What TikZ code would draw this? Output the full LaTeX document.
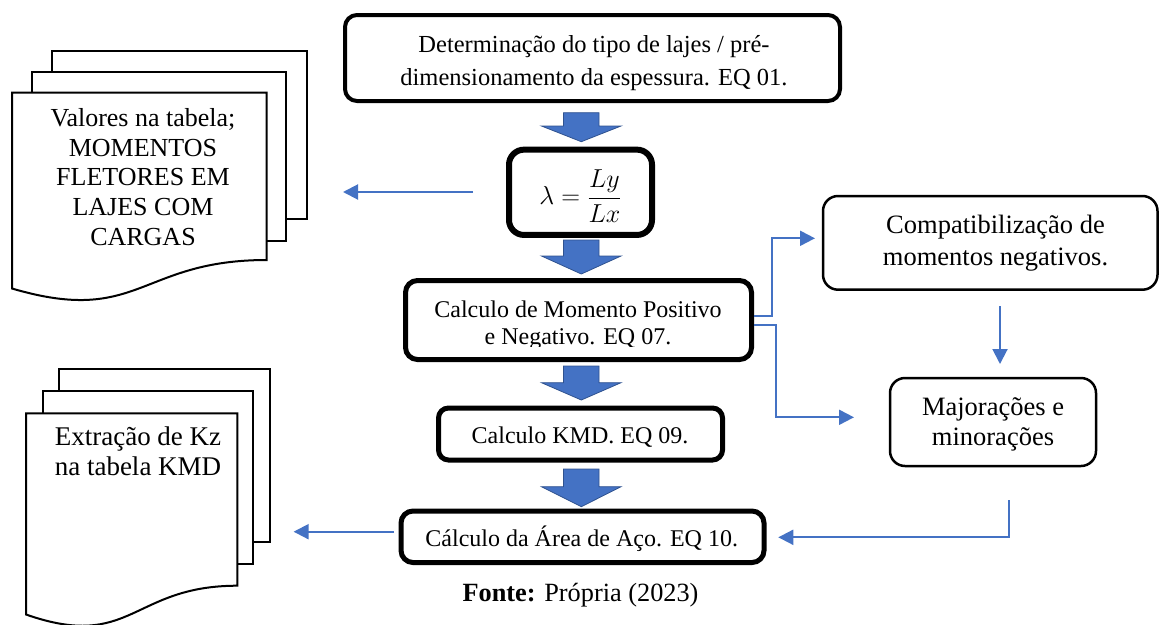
\RequirePackage{fix-cm}
\documentclass[tikz,border=0pt]{standalone}
\usepackage{fontspec}
\setmainfont{Liberation Serif}
\usetikzlibrary{arrows.meta}
\definecolor{conblue}{HTML}{4472C4}
\definecolor{arrborder}{HTML}{2F528F}
\newcommand{\mlines}[1]{\begin{tabular}[t]{@{}c@{}}#1\end{tabular}}
\newcommand{\fsz}[2]{\fontsize{#1}{#2}\selectfont}
\newcommand{\barrow}[3]{\filldraw[barr] (563.5,#1) -- (599,#1) -- (599,#2) -- (621,#2) -- (581.3,#3) -- (541.5,#2) -- (563.5,#2) -- cycle;}
\begin{document}
\begin{tikzpicture}[x=1pt,y=-1pt,
  box/.style={draw=black, fill=white, rounded corners=#1, inner sep=0pt},
  box/.default=12pt,
  txt/.style={anchor=base, inner sep=0pt},
  conn/.style={draw=conblue, line width=2pt, -{Triangle[length=15pt,width=15pt]}},
  barr/.style={fill=conblue, draw=arrborder, line width=0.8pt, line join=miter},
  doc/.style={draw=black, line width=2pt, line join=miter}
]
\useasboundingbox (0,0) rectangle (1161,624);
\clip (0,0) rectangle (1161,624);

% main boxes
\node[box=12pt, line width=4pt, minimum width=495pt, minimum height=86pt] (top) at (592.5,58) {};
\node[txt, font=\fsz{24.5}{32.3}] (toptxt) at (594,52.7) {\mlines{Determinação do tipo de lajes / pré-\\dimensionamento da espessura. EQ 01.}};

\node[box=15pt, line width=6pt, minimum width=143pt, minimum height=85.3pt] (lam) at (580.5,192.3) {};
\node[inner sep=0pt, font=\fsz{26}{30}] (lamtxt) at (580.5,196) {$\displaystyle\lambda=\frac{Ly}{Lx}$};

\node[box=12pt, line width=5pt, minimum width=346pt, minimum height=79pt] (mom) at (578.5,320) {};
\begin{scope}
\clip (405,280) rectangle (752,346);
\node[txt, font=\fsz{24}{27}] (momtxt) at (578,317) {\mlines{Calculo de Momento Positivo\\e Negativo. EQ 07.}};
\end{scope}

\node[box=10pt, line width=5pt, minimum width=284pt, minimum height=52pt] (kmd) at (580.5,434) {};
\node[txt, font=\fsz{24}{27}] (kmdtxt) at (580,443) {Calculo KMD. EQ 09.};

\node[box=12pt, line width=5pt, minimum width=363pt, minimum height=51.5pt] (area) at (582.5,536.75) {};
\node[txt, font=\fsz{24}{27}] (areatxt) at (581.7,546.7) {Cálculo da Área de Aço. EQ 10.};

\node[box=15pt, line width=2.5pt, minimum width=334.5pt, minimum height=93.7pt] (comp) at (990.25,242.85) {};
\node[txt, font=\fsz{26.5}{32}] (comptxt) at (995.5,233) {\mlines{Compatibilização de\\momentos negativos.}};

\node[box=15pt, line width=2.5pt, minimum width=206pt, minimum height=88pt] (maj) at (993,422) {};
\node[txt, font=\fsz{26.5}{30}] (majtxt) at (993,415) {\mlines{Majorações e\\minorações}};

% block arrows
\barrow{112.7}{126}{141.7}
\barrow{240}{256}{274}
\barrow{366}{382.7}{400}
\barrow{469}{486.7}{506.7}

% document stack 1
\draw[doc] (51.7,71.7) -- (51.7,51) -- (306.7,51) -- (306.7,219.3) -- (285.7,219.3);
\draw[doc] (32.3,92.7) -- (32.3,71.7) -- (285.7,71.7) -- (285.7,240.7) -- (266.7,240.7);
\draw[doc, fill=white] (12,92.7) -- (266.7,92.7) -- (266.7,260) .. controls (139.3,260) and (139.3,326) .. (12,288.5) -- cycle;
\node[txt, font=\fsz{26}{29.6}] (d1txt) at (143,126.7) {\mlines{Valores na tabela;\\MOMENTOS\\FLETORES EM\\LAJES COM\\CARGAS}};

% document stack 2
\draw[doc] (59.3,390.7) -- (59.3,369.3) -- (270,369.3) -- (270,542.3) -- (253.3,542.3);
\draw[doc] (42.7,413.3) -- (42.7,390.7) -- (253.3,390.7) -- (253.3,564.3) -- (237.3,564.3);
\draw[doc, fill=white] (26,413.3) -- (237.3,413.3) -- (237.3,585.7) .. controls (131.6,585.7) and (131.6,651.4) .. (26,614.5) -- cycle;
\node[txt, font=\fsz{27}{30}] (d2txt) at (138,445) {\mlines{Extração de Kz\\na tabela KMD}};

% connectors
\coordinate (la1) at (473,192);
\coordinate (la2) at (343,192);
\draw[conn] (la1) -- (la2);

\coordinate (u1) at (771.7,316);
\coordinate (u2) at (815,238.3);
\draw[conn] (mom.east |- u1) -- (u1) |- (u2);

\coordinate (d1) at (776,325);
\coordinate (d2) at (854,417.3);
\draw[conn] (mom.east |- d1) -- (d1) |- (d2);

\coordinate (v1) at (1000,306);
\coordinate (v2) at (1000,364);
\draw[conn] (v1) -- (v2);

\coordinate (r1) at (1009,500);
\coordinate (r2) at (1009,537.3);
\coordinate (r3) at (778.3,537.3);
\draw[conn] (r1) -- (r2) -- (r3);

\coordinate (a1) at (394,531.7);
\coordinate (a2) at (293.6,531.7);
\draw[conn] (a1) -- (a2);

% caption
\node[txt, font=\fsz{26.3}{30}] (fonte) at (580.5,601.7) {\textbf{Fonte:} Própria (2023)};
\end{tikzpicture}
\end{document}
